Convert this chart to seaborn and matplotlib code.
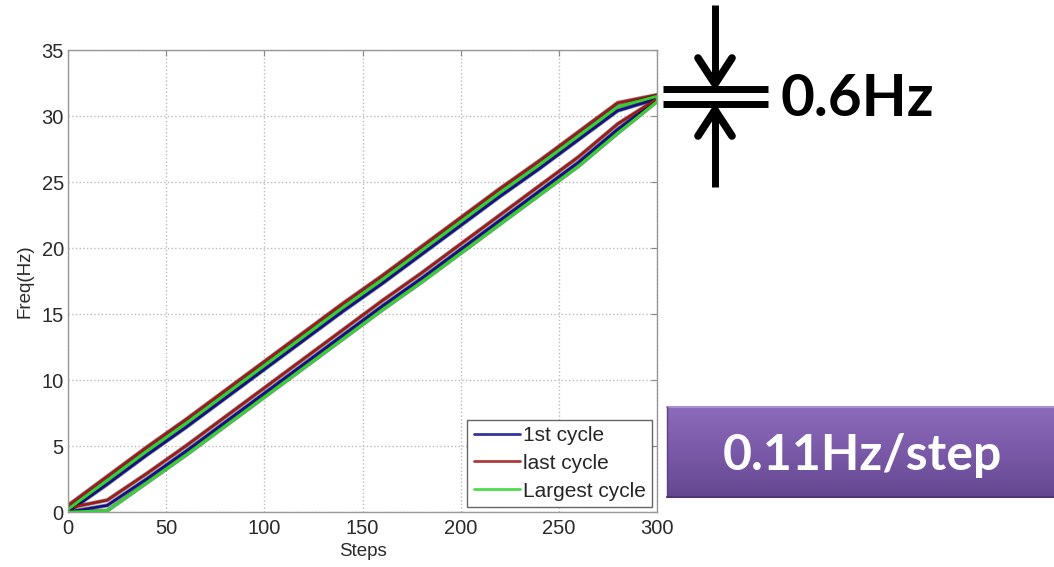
"""
Frequency vs steps hysteresis plot with slide annotations
"""

import numpy as np
import pandas as pd
import matplotlib
matplotlib.use("Agg")
import matplotlib.pyplot as plt
import matplotlib.patheffects as pe
import seaborn as sns

# Data (one point every 20 steps)
steps = [0, 20, 40, 60, 80, 100, 120, 140, 160, 180, 200, 220, 240, 260, 280, 300]

blue_up = [0.0, 2.1, 4.3, 6.4, 8.6, 10.8, 13.0, 15.2, 17.3, 19.5, 21.7, 23.9, 26.0, 28.2, 30.4, 31.3]
blue_down = [0.0, 0.5, 2.5, 4.6, 6.8, 9.0, 11.2, 13.4, 15.6, 17.7, 19.9, 22.1, 24.3, 26.5, 29.0, 31.2]

red_up = [0.5, 2.7, 4.9, 7.0, 9.2, 11.4, 13.6, 15.8, 17.9, 20.1, 22.3, 24.5, 26.6, 28.8, 31.0, 31.6]
red_down = [0.3, 0.9, 2.9, 5.0, 7.2, 9.4, 11.6, 13.8, 16.0, 18.1, 20.3, 22.5, 24.7, 26.9, 29.4, 31.3]

green_up = [0.2, 2.4, 4.6, 6.7, 8.9, 11.1, 13.3, 15.5, 17.6, 19.8, 22.0, 24.2, 26.3, 28.5, 30.7, 31.5]
green_down = [0.0, 0.1, 2.2, 4.3, 6.5, 8.7, 10.9, 13.1, 15.3, 17.4, 19.6, 21.8, 24.0, 26.2, 28.7, 31.1]

series_names = ["1st cycle", "last cycle", "Largest cycle"]
series_colors = ["#10108a", "#a01818", "#2ed62e"]

x_ticks = [0, 50, 100, 150, 200, 250, 300]
y_ticks = [0, 5, 10, 15, 20, 25, 30, 35]


def build_frame():
    """Each cycle is a loop: up branch then down branch back"""
    rows = []
    branches = [(blue_up, blue_down), (red_up, red_down), (green_up, green_down)]
    for name, (up, down) in zip(series_names, branches):
        xs = steps + steps[::-1]
        ys = up + down[::-1]
        for i, (x, y) in enumerate(zip(xs, ys)):
            rows.append({"cycle": name, "order": i, "Steps": x, "Freq": y})
    return pd.DataFrame(rows)


sns.set_style("white")
plt.rcParams["font.family"] = ["Liberation Sans", "DejaVu Sans"]

fig = plt.figure(figsize=(10.54, 5.67), dpi=100)
ax = fig.add_axes([68 / 1054, 55 / 567, 589 / 1054, 462 / 567])

df = build_frame()
sns.lineplot(data=df, x="Steps", y="Freq", hue="cycle", units="cycle",
             estimator=None, sort=False, palette=series_colors,
             hue_order=series_names, linewidth=1.9, ax=ax, legend=False)
for line in ax.get_lines():
    line.set_path_effects([pe.Stroke(linewidth=3.0, foreground="#202020", alpha=0.5),
                           pe.Normal()])

ax.set_xlim(0, 300)
ax.set_ylim(0, 35)
ax.set_xticks(x_ticks)
ax.set_yticks(y_ticks)
ax.tick_params(direction="in", length=4, top=True, right=True,
               labelsize=14.5, colors="#888888", labelcolor="#2a2a2a")
ax.tick_params(axis="x", pad=5)
ax.tick_params(axis="y", pad=3)
ax.grid(True, linestyle=":", color="#bbbbbb", linewidth=1.0)
for s in ax.spines.values():
    s.set_color("#999999")
    s.set_linewidth(1.0)
ax.set_xlabel("Steps", fontsize=13.5, labelpad=4, color="#2a2a2a")
ax.set_ylabel("Freq(Hz)", fontsize=13.5, labelpad=6, color="#2a2a2a")

handles = [plt.Line2D([], [], color=c, linewidth=2.0, alpha=0.85) for c in series_colors]
leg = ax.legend(handles, series_names, loc="lower right", fontsize=15,
                frameon=True, fancybox=False, framealpha=1, edgecolor="#666666",
                handlelength=2.2, handletextpad=0.15, borderpad=0.3,
                labelspacing=0.42, borderaxespad=0.25)
leg.get_frame().set_linewidth(1.0)

# Overlay in pixel coordinates for the slide annotations
ov = fig.add_axes([0, 0, 1, 1], facecolor="none")
ov.set_xlim(0, 1054)
ov.set_ylim(567, 0)
ov.axis("off")

lw = 5.0
ov.plot([715, 715], [5, 84], color="black", linewidth=lw, solid_capstyle="butt")
ov.plot([698, 715, 732], [58, 84, 58], color="black", linewidth=lw + 0.5,
        solid_capstyle="round", solid_joinstyle="miter")
ov.plot([715, 715], [187, 110], color="black", linewidth=lw, solid_capstyle="butt")
ov.plot([698, 715, 732], [136, 110, 136], color="black", linewidth=lw + 0.5,
        solid_capstyle="round", solid_joinstyle="miter")
ov.plot([663, 768], [89, 89], color="black", linewidth=lw, solid_capstyle="butt")
ov.plot([663, 768], [104, 104], color="black", linewidth=lw, solid_capstyle="butt")
ov.text(781, 99, "0.6Hz", fontsize=42, fontweight="bold", family="Lato",
        ha="left", va="center", color="black")

# Purple gradient box
grad = np.linspace(0, 1, 100).reshape(-1, 1)
cmap = matplotlib.colors.LinearSegmentedColormap.from_list(
    "purp", ["#8c6cba", "#7a5aa8", "#654791"])
ov.imshow(grad, extent=[667, 1058, 497, 407], cmap=cmap, aspect="auto", zorder=1)
ov.plot([667, 1058], [407, 407], color="#a890cc", linewidth=1.5, zorder=2)
ov.plot([667, 667], [407, 497], color="#5a3f82", linewidth=1.0, zorder=2)
ov.plot([667, 1058], [497, 497], color="#4e3672", linewidth=1.5, zorder=2)
ov.text(862, 456, "0.11Hz/step", fontsize=36, fontweight="bold", family="Lato",
        ha="center", va="center", color="white", zorder=3)
ov.set_xlim(0, 1054)
ov.set_ylim(567, 0)

fig.savefig("out.png", dpi=100)
plt.close(fig)
